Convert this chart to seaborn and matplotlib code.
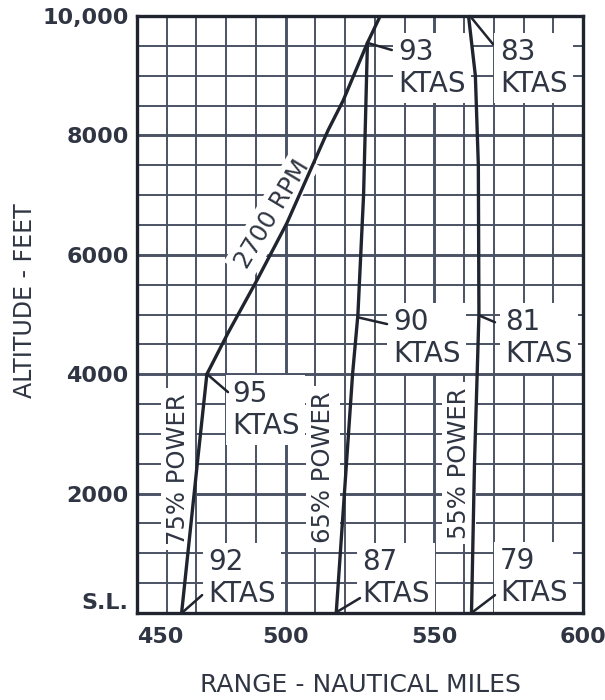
import numpy as np
import matplotlib
matplotlib.use("Agg")
import matplotlib.pyplot as plt
import seaborn as sns

# ------------------------------------------------------------
# data (range in nautical miles, altitude in feet)
# ------------------------------------------------------------
pct75_range = [465.0, 470.4, 473.5]
pct75_alt = [0, 2560, 4000]

rpm_range = [473.5, 480.6, 490.4, 500.4, 514.3, 519.3, 527.5, 531.8]
rpm_alt = [4000, 4690, 5580, 6530, 8090, 8580, 9550, 10000]

pct65_range = [517.0, 522.5, 524.3, 526.2, 527.5]
pct65_alt = [0, 4000, 5000, 7000, 9550]

pct55_range = [562.5, 563.5, 565.0, 564.8, 563.8, 561.5]
pct55_alt = [0, 2500, 5000, 7500, 9000, 10000]

# true airspeed notes and the curve point each one refers to
ktas_values = [92, 95, 87, 90, 93, 79, 81, 83]
ktas_range = [465.5, 473.6, 517.3, 524.5, 527.5, 563.0, 565.5, 562.0]
ktas_alt = [20, 4000, 20, 4950, 9550, 20, 4975, 10000]

x_ticks = [450, 500, 550, 600]
x_ticklabels = ["450", "500", "550", "600"]
y_ticks = [0, 2000, 4000, 6000, 8000, 10000]
y_ticklabels = ["S.L.", "2000", "4000", "6000", "8000", "10,000"]

INK = "#20242e"
TXT = "#2f3542"
GRID = "#4a5264"

sns.set_style("white")
plt.rcParams["font.family"] = ["DejaVu Sans"]

fig = plt.figure(figsize=(6.05, 7.0), dpi=100)
ax = fig.add_axes([137 / 605, 1 - 613 / 700, 446 / 605, 597 / 700])

# ------------------------------------------------------------
# curves
# ------------------------------------------------------------
for xs, ys in [(pct75_range, pct75_alt), (rpm_range, rpm_alt),
               (pct65_range, pct65_alt), (pct55_range, pct55_alt)]:
    sns.lineplot(x=xs, y=ys, sort=False, estimator=None, color=INK,
                 lw=2.4, ax=ax, zorder=3)

ax.set_xlim(450, 600)
ax.set_ylim(0, 10000)

# grid paper
ax.set_xticks(x_ticks)
ax.set_xticklabels(x_ticklabels)
ax.set_xticks(np.arange(450, 601, 10), minor=True)
ax.set_yticks(y_ticks)
ax.set_yticklabels(y_ticklabels)
ax.set_yticks(np.arange(0, 10001, 500), minor=True)
ax.set_axisbelow(True)
ax.grid(which="minor", color=GRID, lw=1.4)
ax.grid(which="major", color=GRID, lw=2.1)
ax.tick_params(which="both", length=0)
ax.tick_params(axis="x", pad=10, labelsize=16, labelcolor=TXT)
ax.tick_params(axis="y", pad=6, labelsize=16, labelcolor=TXT)
for lab in ax.get_xticklabels() + ax.get_yticklabels():
    lab.set_fontweight("bold")
ax.get_xticklabels()[0].set_horizontalalignment("left")
ax.get_yticklabels()[0].set_verticalalignment("bottom")

for s in ax.spines.values():
    s.set_color(INK)
    s.set_linewidth(2.4)

ax.set_xlabel("RANGE - NAUTICAL MILES", fontsize=18, color=TXT)
ax.set_ylabel("ALTITUDE - FEET", fontsize=17, color=TXT)
ax.xaxis.set_label_coords(0.5, -0.1)
ax.yaxis.set_label_coords(-0.225, 0.524)

# ------------------------------------------------------------
# annotations
# ------------------------------------------------------------
box = dict(boxstyle="square,pad=0.2", fc="white", ec="none")

# label block (left edge, centre height) and leader end for each KTAS note
label_pos = [(473.9, 586), (481.9, 3400), (525.7, 586), (536.1, 4606),
             (537.8, 9129), (572.1, 603), (573.8, 4606), (572.1, 9129)]
leader_end = [(471.9, 300), (480.6, 3700), (525.0, 250), (534.1, 4840),
              (535.7, 9430), (570.4, 300), (570.4, 4870), (569.7, 9530)]

for v, cx, cy, (tx, ty), (lx, ly) in zip(ktas_values, ktas_range, ktas_alt,
                                         label_pos, leader_end):
    ax.text(tx, ty, f"{v}\nKTAS", fontsize=20, color=TXT, ha="left",
            va="center", linespacing=1.15, bbox=box, zorder=2)
    ax.annotate("", xy=(cx, cy), xytext=(lx, ly),
                arrowprops=dict(arrowstyle="-", color=INK, lw=1.8,
                                shrinkA=0, shrinkB=0), zorder=4)

for txt, x, y in [("75% POWER", 463.8, 2412), ("65% POWER", 512.6, 2446),
                  ("55% POWER", 558.3, 2513)]:
    ax.text(x, y, txt, rotation=90, fontsize=17.5, color=TXT, ha="center",
            va="center", bbox=box, zorder=2)

ax.text(495.4, 6683, "2700 RPM", rotation=59, fontsize=17.5, color=TXT,
        ha="center", va="center", rotation_mode="anchor", bbox=box, zorder=2)

plt.savefig("out.png", dpi=100)
plt.close()
